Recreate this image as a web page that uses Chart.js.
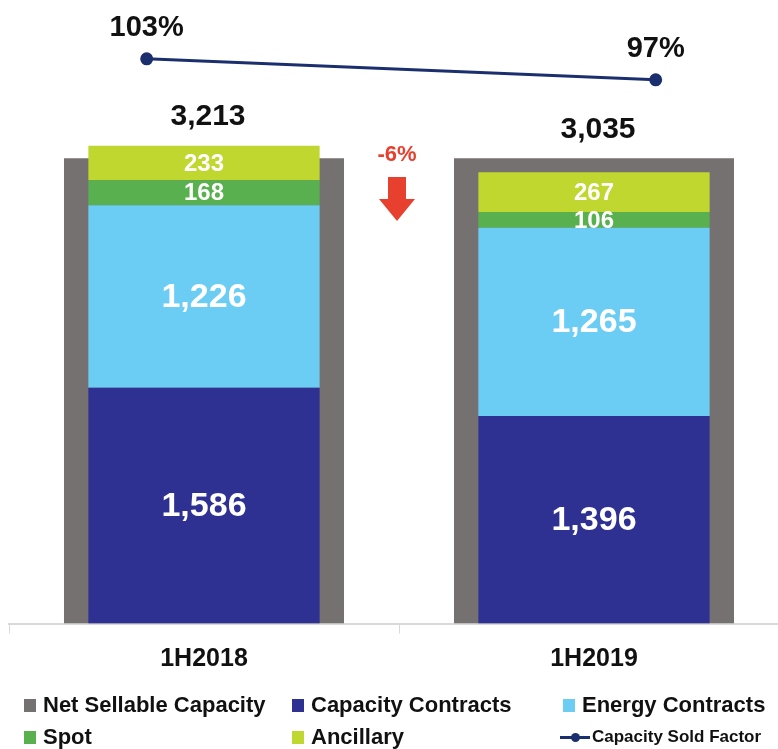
<!DOCTYPE html>
<html>
  <head>
    <title>Capacity Sold</title>
    <script src="https://cdn.jsdelivr.net/npm/chart.js"></script>
    <style>
      body {
        margin: 0;
        background: #fff;
        overflow: hidden;
        font-family: "Liberation Sans", Arial, sans-serif;
      }
      #wrap {
        position: relative;
        width: 778px;
        height: 749px;
        overflow: hidden;
      }
      #legend {
        position: absolute;
        left: 24px;
        top: 689px;
        display: grid;
        grid-template-columns: 268px 271px auto;
        grid-auto-rows: 32px;
        font-weight: bold;
        font-size: 22px;
        color: #111;
      }
      .item {
        display: flex;
        align-items: center;
        white-space: nowrap;
      }
      .box {
        width: 12px;
        height: 13px;
        margin-right: 7px;
      }
      .lineMark {
        position: relative;
        width: 30px;
        height: 3px;
        margin-left: -3px;
        margin-right: 2px;
      }
      .lineMark span {
        position: absolute;
        left: 11px;
        top: -3px;
        width: 9px;
        height: 9px;
        border-radius: 50%;
      }
    </style>
  </head>
  <body>
    <div id="wrap">
      <canvas id="chart" width="790" height="749"></canvas>
      <div id="legend"></div>
    </div>

    <script>
      // data
      var periods = ["1H2018", "1H2019"];
      var netSellable = [3128, 3128];
      var capacityContracts = [1586, 1396];
      var energyContracts = [1226, 1265];
      var spot = [168, 106];
      var ancillary = [233, 267];
      var totals = [3213, 3035];
      var soldFactor = [103, 97];

      var fontFamily = "'Liberation Sans', Arial, sans-serif";

      ///////////////////// LABELS PLUGIN /////////////////////
      var labelsPlugin = {
        id: "labelsPlugin",
        afterDatasetsDraw: function (chart) {
          var ctx = chart.ctx;
          var xScale = chart.scales.x;
          ctx.save();
          ctx.textAlign = "center";
          ctx.textBaseline = "middle";

          // values inside the stacked bars
          chart.data.datasets.forEach(function (ds, i) {
            if (ds.stack !== "sold") return;
            chart.getDatasetMeta(i).data.forEach(function (bar, j) {
              var h = Math.abs(bar.base - bar.y);
              var size = h < 60 ? 24 : 34;
              ctx.font = "bold " + size + "px " + fontFamily;
              ctx.fillStyle = "#ffffff";
              ctx.fillText(ds.data[j].toLocaleString("en-US"), bar.x, (bar.y + bar.base) / 2 + 1);
            });
          });

          // totals above the bars
          var grayMeta = chart.getDatasetMeta(0);
          var topMeta = chart.getDatasetMeta(4);
          ctx.font = "bold 30px " + fontFamily;
          ctx.fillStyle = "#111";
          totals.forEach(function (t, j) {
            var top = Math.min(grayMeta.data[j].y, topMeta.data[j].y);
            ctx.fillText(t.toLocaleString("en-US"), xScale.getPixelForValue(j) + 4, top - 29);
          });

          // capacity sold factor labels
          var lineMeta = chart.getDatasetMeta(5);
          ctx.font = "bold 29px " + fontFamily;
          lineMeta.data.forEach(function (pt, j) {
            ctx.fillText(soldFactor[j] + "%", pt.x, pt.y - 31);
          });

          // change between periods
          var change = Math.round(((totals[1] - totals[0]) / totals[0]) * 100);
          var cx = (xScale.getPixelForValue(0) + xScale.getPixelForValue(1)) / 2 - 2;
          ctx.fillStyle = "#e8402f";
          ctx.font = "bold 22px " + fontFamily;
          ctx.fillText(change + "%", cx, 155);
          ctx.beginPath();
          ctx.moveTo(cx - 9, 177);
          ctx.lineTo(cx + 9, 177);
          ctx.lineTo(cx + 9, 199);
          ctx.lineTo(cx + 18, 199);
          ctx.lineTo(cx, 221);
          ctx.lineTo(cx - 18, 199);
          ctx.lineTo(cx - 9, 199);
          ctx.closePath();
          ctx.fill();

          ctx.restore();
        },
      };

      var ctx = document.getElementById("chart").getContext("2d");

      var myChart = new Chart(ctx, {
        type: "bar",
        data: {
          labels: periods,
          datasets: [
            {
              label: "Net Sellable Capacity",
              data: netSellable,
              backgroundColor: "#767171",
              stack: "net",
              barPercentage: 0.718,
              order: 3,
            },
            {
              label: "Capacity Contracts",
              data: capacityContracts,
              backgroundColor: "#2e3192",
              stack: "sold",
              order: 2,
            },
            {
              label: "Energy Contracts",
              data: energyContracts,
              backgroundColor: "#6bcdf3",
              stack: "sold",
              order: 2,
            },
            {
              label: "Spot",
              data: spot,
              backgroundColor: "#58b04f",
              stack: "sold",
              order: 2,
            },
            {
              label: "Ancillary",
              data: ancillary,
              backgroundColor: "#c0d730",
              stack: "sold",
              order: 2,
            },
            {
              type: "line",
              label: "Capacity Sold Factor",
              data: soldFactor.map(function (v, i) {
                return { x: i, y: v };
              }),
              xAxisID: "xLine",
              yAxisID: "yPct",
              borderColor: "#1b2f6e",
              backgroundColor: "#1b2f6e",
              borderWidth: 3,
              pointRadius: 5,
              order: 1,
            },
          ],
        },
        options: {
          responsive: false,
          animation: false,
          layout: {
            autoPadding: false,
            padding: { top: 0, left: 9, right: 1, bottom: 63.5 },
          },
          datasets: {
            bar: {
              grouped: false,
              categoryPercentage: 1,
              barPercentage: 0.593,
            },
          },
          scales: {
            x: {
              stacked: true,
              grid: {
                offset: true,
                drawOnChartArea: false,
                drawTicks: true,
                tickLength: 10,
                color: "#d9d9d9",
              },
              border: { color: "#d9d9d9", width: 2 },
              ticks: {
                padding: 11,
                color: "#111",
                font: { family: fontFamily, size: 25, weight: "bold" },
              },
            },
            y: {
              stacked: true,
              display: false,
              min: 0,
              max: 4193,
            },
            xLine: {
              type: "linear",
              display: false,
              offset: false,
              min: -0.2705,
              max: 1.2619,
            },
            yPct: {
              display: false,
              min: -58.3,
              max: 119.8,
            },
          },
          plugins: {
            legend: { display: false },
            tooltip: { enabled: false },
          },
        },
        plugins: [labelsPlugin],
      });

      // html legend, three columns
      var legendEl = document.getElementById("legend");
      myChart.data.datasets.forEach(function (ds) {
        var item = document.createElement("div");
        item.className = "item";
        if (ds.type === "line") {
          var mark = document.createElement("div");
          mark.className = "lineMark";
          mark.style.background = ds.borderColor;
          var dot = document.createElement("span");
          dot.style.background = ds.borderColor;
          mark.appendChild(dot);
          item.appendChild(mark);
          item.style.fontSize = "17px";
        } else {
          var box = document.createElement("div");
          box.className = "box";
          box.style.background = ds.backgroundColor;
          item.appendChild(box);
        }
        var txt = document.createElement("span");
        txt.textContent = ds.label;
        item.appendChild(txt);
        legendEl.appendChild(item);
      });
    </script>
  </body>
</html>
